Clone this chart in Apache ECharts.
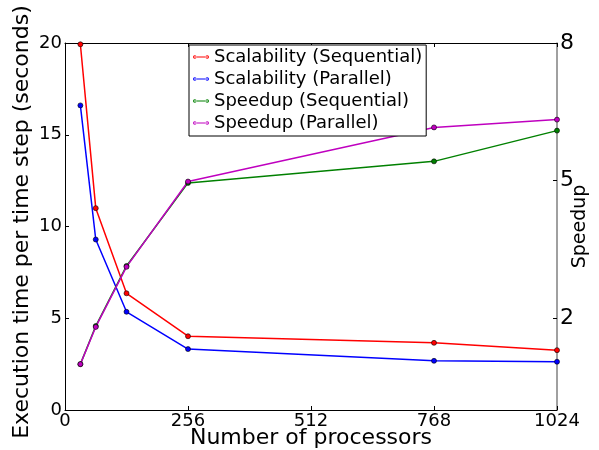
<!DOCTYPE html>
<html><head><meta charset="utf-8">
<script src="https://cdn.jsdelivr.net/npm/echarts@6/dist/echarts.min.js"></script>
<style>html,body{margin:0;padding:0;background:#fff}#c{width:599px;height:450px}</style>
</head><body><div id="c"></div>
<script>
const processors = [32, 64, 128, 256, 768, 1024];
const scalSeq = [19.93, 11.0, 6.36, 4.02, 3.66, 3.26];
const scalPar = [16.6, 9.29, 5.35, 3.32, 2.68, 2.63];
const speedSeq = [1.0, 1.83, 3.14, 4.95, 5.42, 6.09];
const speedPar = [1.0, 1.81, 3.12, 4.98, 6.16, 6.33];
const xTicks = [0, 256, 512, 768, 1024];
const rightTicks = [2, 5, 8];
const names = ['Scalability (Sequential)', 'Scalability (Parallel)', 'Speedup (Sequential)', 'Speedup (Parallel)'];
const colors = ['#ff0000', '#0000ff', '#008000', '#bf00bf'];

const font = 'DejaVu Sans';
const chart = echarts.init(document.getElementById('c'), null, {renderer: 'canvas'});
const pair = a => processors.map((p, i) => [p, a[i]]);
const mk = (name, data, color, yIdx) => ({
  name, type: 'line', data: pair(data), yAxisIndex: yIdx, xAxisIndex: 0,
  symbol: 'circle', symbolSize: 5, showAllSymbol: true,
  lineStyle: {color, width: 1.5},
  itemStyle: {color, borderColor: '#000', borderWidth: 0.6},
  emphasis: {disabled: true}, animation: false
});
const icon = 'path://M1,4.4 L15,4.4 L15,5.6 L1,5.6 Z M0,5 A1.8,1.8 0 1 0 3.6,5 A1.8,1.8 0 1 0 0,5 Z M12.4,5 A1.8,1.8 0 1 0 16,5 A1.8,1.8 0 1 0 12.4,5 Z';
chart.setOption({
  animation: false,
  textStyle: {fontFamily: font},
  grid: {left: 65, right: 42, top: 43, bottom: 40, containLabel: false, outerBoundsMode: 'none'},
  legend: {
    orient: 'vertical', left: 189, top: 45, padding: [3, 4, 4, 4],
    borderColor: '#000', borderWidth: 1, backgroundColor: '#fff', borderRadius: 0,
    itemWidth: 16, itemHeight: 10, itemGap: 4,
    icon: icon,
    itemStyle: {borderWidth: 0},
    lineStyle: {width: 0},
    textStyle: {fontFamily: font, fontSize: 18, color: '#000', padding: [0, 0, 0, 0]},
    data: names.map((n, i) => ({name: n, itemStyle: {color: colors[i], borderWidth: 0}}))
  },
  xAxis: [{
    type: 'value', min: 0, max: 1024, interval: 256, position: 'bottom',
    name: 'Number of processors', nameLocation: 'middle', nameGap: 17, nameMoveOverlap: false,
    nameTextStyle: {fontFamily: font, fontSize: 22, color: '#000'},
    axisLine: {onZero: false, lineStyle: {color: '#000', width: 1}},
    axisTick: {inside: true, length: 4, lineStyle: {color: '#000'}},
    axisLabel: {fontFamily: font, fontSize: 18, color: '#000', margin: 2,
      formatter: v => String(v)},
    splitLine: {show: false}
  }, {
    type: 'value', min: 0, max: 1024, interval: 256, position: 'top',
    axisLine: {onZero: false, lineStyle: {color: '#000', width: 1}},
    axisTick: {inside: true, length: 4, lineStyle: {color: '#000'}},
    axisLabel: {show: false}, splitLine: {show: false}
  }],
  yAxis: [{
    type: 'value', min: 0, max: 20, interval: 5, position: 'left',
    name: 'Execution time per time step (seconds)', nameLocation: 'middle', nameGap: 32, nameMoveOverlap: false,
    nameTextStyle: {fontFamily: font, fontSize: 22, color: '#000', padding: [0, 0, 0, 9]},
    axisLine: {show: true, onZero: false, lineStyle: {color: '#000', width: 1}},
    axisTick: {show: true, inside: true, length: 4, lineStyle: {color: '#000'}},
    axisLabel: {fontFamily: font, fontSize: 18, color: '#000', margin: 3},
    splitLine: {show: false}
  }, {
    type: 'value', min: 0, max: 8, position: 'right',
    name: 'Speedup', nameLocation: 'middle', nameGap: 14, nameRotate: 90, nameMoveOverlap: false,
    nameTextStyle: {fontFamily: font, fontSize: 19, color: '#000'},
    axisLine: {show: true, onZero: false, lineStyle: {color: '#808080', width: 1.5}},
    axisTick: {show: true, inside: true, length: 4, customValues: rightTicks, lineStyle: {color: '#000'}},
    axisLabel: {fontFamily: font, fontSize: 22, color: '#000', margin: 3, customValues: rightTicks},
    splitLine: {show: false}
  }],
  series: [
    mk(names[0], scalSeq, colors[0], 0),
    mk(names[1], scalPar, colors[1], 0),
    mk(names[2], speedSeq, colors[2], 1),
    mk(names[3], speedPar, colors[3], 1)
  ]
});
</script></body></html>
